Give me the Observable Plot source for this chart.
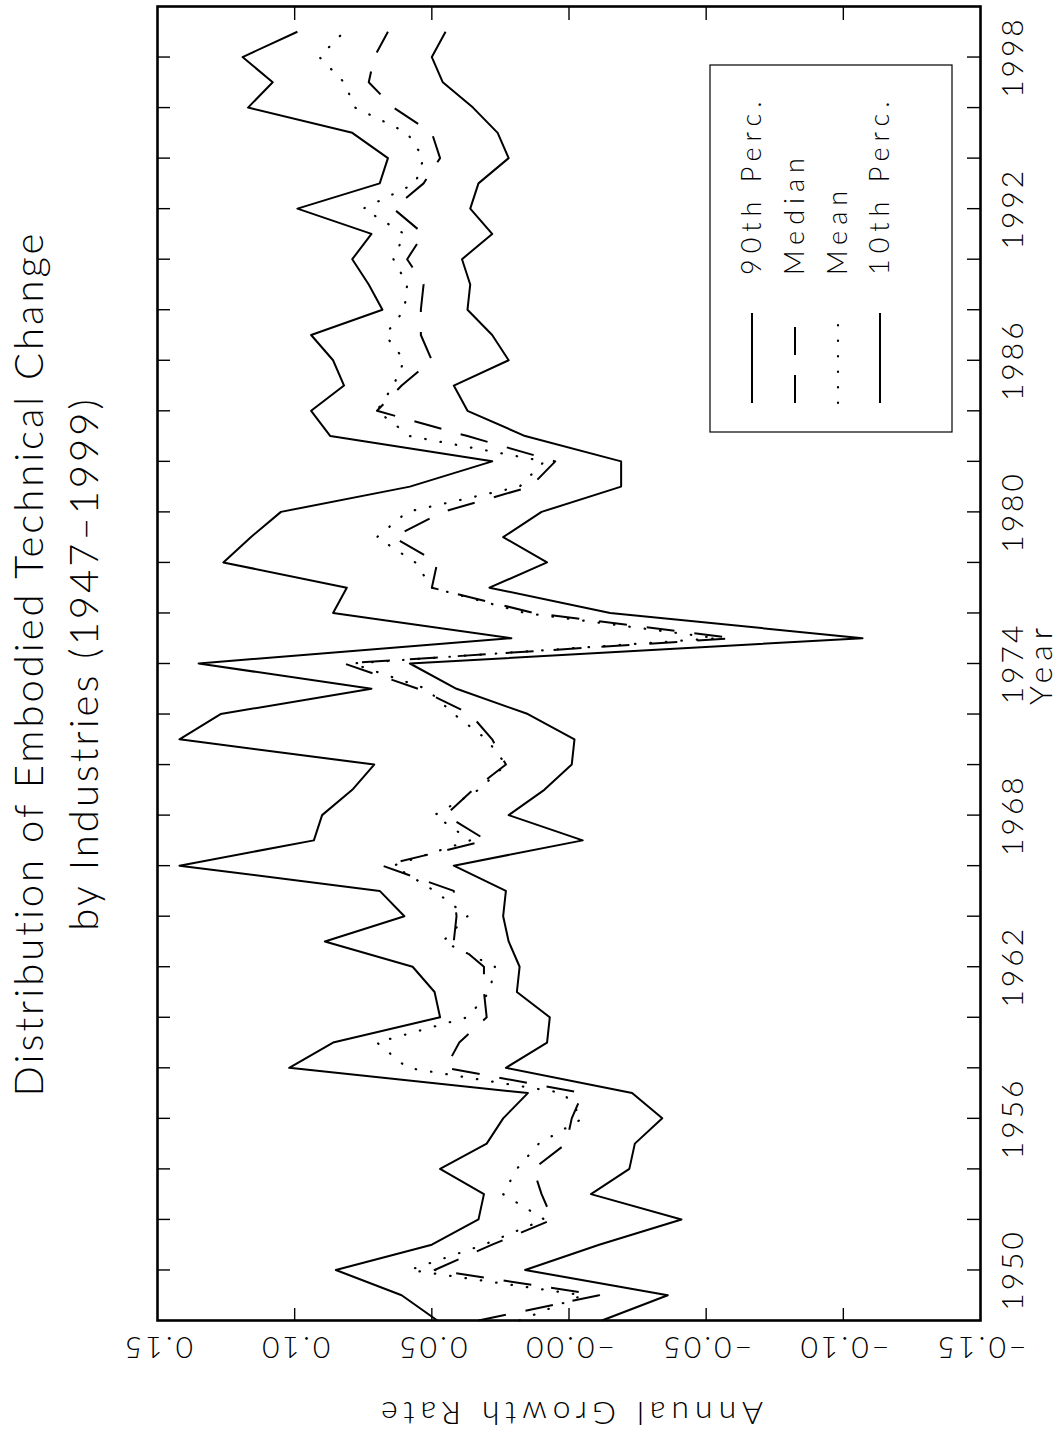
<!DOCTYPE html>
<html><head><meta charset="utf-8">
<script src="https://cdn.jsdelivr.net/npm/d3@7"></script>
<script src="https://cdn.jsdelivr.net/npm/@observablehq/plot@0.6"></script>
<style>
html,body{margin:0;padding:0;background:#fff;width:1063px;height:1433px;overflow:hidden;}
#wrap{position:relative;width:1063px;height:1433px;overflow:hidden;}
#wrap svg{position:absolute;left:0;top:0;max-width:none !important;width:1433px !important;height:1063px !important;transform-origin:0 0;transform:translate(0px,1433px) rotate(-90deg);}
</style></head><body><div id="wrap"></div>
<script>
// ---- data ----
const years = [1948,1949,1950,1951,1952,1953,1954,1955,1956,1957,1958,1959,1960,1961,1962,1963,1964,1965,1966,1967,1968,1969,1970,1971,1972,1973,1974,1975,1976,1977,1978,1979,1980,1981,1982,1983,1984,1985,1986,1987,1988,1989,1990,1991,1992,1993,1994,1995,1996,1997,1998,1999];
const p90 = [0.048,0.061,0.085,0.050,0.033,0.031,0.047,0.030,0.024,0.015,
  0.102,0.086,0.047,0.049,0.057,0.089,0.060,0.069,0.142,0.093,
  0.090,0.079,0.071,0.142,0.127,0.072,0.135,0.021,0.086,0.081,
  0.126,0.116,0.105,0.058,0.028,0.087,0.094,0.082,0.086,0.094,
  0.068,0.073,0.079,0.072,0.099,0.069,0.066,0.079,0.117,0.108,
  0.119,0.099];
const median = [0.033,-0.011,0.049,0.028,0.006,0.010,0.013,0.001,-0.001,-0.005,
  0.045,0.040,0.030,0.031,0.031,0.042,0.041,0.042,0.068,0.030,
  0.045,0.035,0.023,0.028,0.036,0.055,0.082,-0.060,0.013,0.050,
  0.048,0.064,0.046,0.014,0.005,0.037,0.070,0.061,0.050,0.054,
  0.054,0.053,0.059,0.053,0.064,0.053,0.047,0.050,0.064,0.073,
  0.071,0.066];
const mean = [0.018,-0.005,0.058,0.031,0.009,0.024,0.019,0.011,-0.005,0.002,
  0.059,0.070,0.037,0.029,0.027,0.046,0.037,0.049,0.064,0.036,
  0.049,0.033,0.023,0.030,0.042,0.052,0.079,-0.054,0.016,0.050,
  0.056,0.070,0.059,0.018,0.009,0.058,0.070,0.064,0.060,0.067,
  0.060,0.059,0.064,0.060,0.075,0.056,0.053,0.059,0.078,0.082,
  0.091,0.082];
const p10 = [-0.012,-0.036,0.016,-0.011,-0.041,-0.008,-0.022,-0.024,-0.034,-0.023,
  0.023,0.008,0.007,0.019,0.018,0.022,0.024,0.023,0.042,-0.005,
  0.022,0.009,-0.001,-0.002,0.015,0.041,0.058,-0.107,-0.015,0.029,
  0.008,0.024,0.010,-0.019,-0.019,0.016,0.037,0.042,0.022,0.028,
  0.037,0.036,0.039,0.028,0.036,0.033,0.022,0.026,0.035,0.046,
  0.050,0.045];
const seriesNames = ["90th Perc.", "Median", "Mean", "10th Perc."];
const yearTicks = [1950,1952,1954,1956,1958,1960,1962,1964,1966,1968,1970,1972,1974,1976,1978,1980,1982,1984,1986,1988,1990,1992,1994,1996,1998];
const yearLabels = [1950,1956,1962,1968,1974,1980,1986,1992,1998];
const rateTicks = [0.10,0.05,0.00,-0.05,-0.10];
const rateLabelValues = [0.15,0.10,0.05,0.00,-0.05,-0.10,-0.15];
const rateLabelText = ["0.15","0.10","0.05","\u22120.00","\u22120.05","\u22120.10","\u22120.15"];
const titleLines = ["Distribution of Embodied Technical Change", "by Industries (1947\u20131999)"];
const xTitle = "Year";
const yTitle = "Annual Growth Rate";

// ---- styles ----
const styles = {
  "90th Perc.": {dash: null, width: 2},
  "Median": {dash: "28,20", width: 2},
  "Mean": {dash: "0.5,15", width: 2.2},
  "10th Perc.": {dash: null, width: 2}
};
const seriesValues = [p90, median, mean, p10];
const rows = [];
seriesNames.forEach((s, k) => years.forEach((yr, i) => rows.push({series: s, year: yr, value: seriesValues[k][i]})));

const W = 1433, H = 1063;
const mL = 112, mR = 7, mT = 157, mB = 83;
const plotW = W - mL - mR, plotH = H - mT - mB;
const tick = 13;

function legendMark(index, scales, values, dims) {
  const right = dims.width - dims.marginRight - 58;
  const bottom = dims.height - dims.marginBottom - 28;
  const bw = 367, bh = 242;
  const left = right - bw, top = bottom - bh;
  const g = d3.create("svg:g").attr("aria-label", "legend");
  g.append("rect").attr("x", left).attr("y", top).attr("width", bw).attr("height", bh)
    .attr("fill", "white").attr("stroke", "black").attr("stroke-width", 1.2);
  const rowY = [42, 85, 128, 170];
  seriesNames.forEach((s, i) => {
    const y = top + rowY[i];
    const st = styles[s];
    g.append("line").attr("x1", left + 29).attr("x2", left + 119).attr("y1", y).attr("y2", y)
      .attr("stroke", "black").attr("stroke-width", st.width)
      .attr("stroke-linecap", st.dash && st.dash.startsWith("0.5") ? "round" : "butt")
      .attr("stroke-dasharray", st.dash);
    g.append("text").attr("x", left + 157).attr("y", y).attr("dy", "0.35em")
      .attr("text-anchor", "start")
      .attr("font-size", 27).attr("letter-spacing", "6px").attr("fill", "black").text(s);
  });
  return g.node();
}

const lineMarks = seriesNames.map(s => Plot.line(rows.filter(r => r.series === s), {
  x: "year", y: "value", stroke: "black", strokeWidth: styles[s].width,
  strokeDasharray: styles[s].dash, strokeLinecap: styles[s].dash && styles[s].dash.startsWith("0.5") ? "round" : "butt",
  strokeLinejoin: "round"
}));

const T = {textAnchor: "middle", lineAnchor: "middle"};
const svg = Plot.plot({
  width: W, height: H,
  marginLeft: mL, marginRight: mR, marginTop: mT, marginBottom: mB,
  style: {fontFamily: "Lato, 'DejaVu Sans', sans-serif", fontWeight: 300, background: "white", color: "black"},
  x: {domain: [1948, 2000], axis: null},
  y: {domain: [-0.15, 0.15], axis: null},
  marks: [
    ...lineMarks,
    Plot.ruleX(yearTicks, {x: d => d, insetTop: plotH - tick, strokeWidth: 1.4}),
    Plot.ruleX(yearTicks, {x: d => d, insetBottom: plotH - tick, strokeWidth: 1.4}),
    Plot.ruleY(rateTicks, {y: d => d, insetRight: plotW - tick, strokeWidth: 1.4}),
    Plot.ruleY(rateTicks, {y: d => d, insetLeft: plotW - tick, strokeWidth: 1.4}),
    legendMark,
    Plot.frame({strokeWidth: 2.6}),
    Plot.text(yearLabels, {...T, x: d => d, text: d => String(d), frameAnchor: "bottom", dy: 33, fontSize: 30}),
    Plot.text(rateLabelValues, {...T, y: d => d, text: (d, i) => rateLabelText[i], frameAnchor: "left", dx: -26, rotate: -90, fontSize: 30}),
    Plot.text([xTitle], {...T, frameAnchor: "bottom", dy: 61, fontSize: 32}),
    Plot.text([yTitle], {...T, frameAnchor: "left", dx: -92, rotate: -90, fontSize: 32}),
    Plot.text([titleLines[0]], {...T, frameAnchor: "top", dy: -127, fontSize: 40}),
    Plot.text([titleLines[1]], {...T, frameAnchor: "top", dy: -72, fontSize: 40})
  ]
});
// letter spacing per text role (the reference uses a wide stroke font)
const spacing = new Map();
titleLines.forEach(t => spacing.set(t, "3px"));
spacing.set(xTitle, "6px");
spacing.set(yTitle, "6px");
yearLabels.forEach(y => spacing.set(String(y), "3px"));
rateLabelText.forEach(t => spacing.set(t, "3px"));
d3.select(svg).selectAll("text").each(function() {
  const ls = spacing.get(this.textContent);
  if (ls) this.style.letterSpacing = ls;
});
document.getElementById("wrap").appendChild(svg);
</script>
</body></html>
